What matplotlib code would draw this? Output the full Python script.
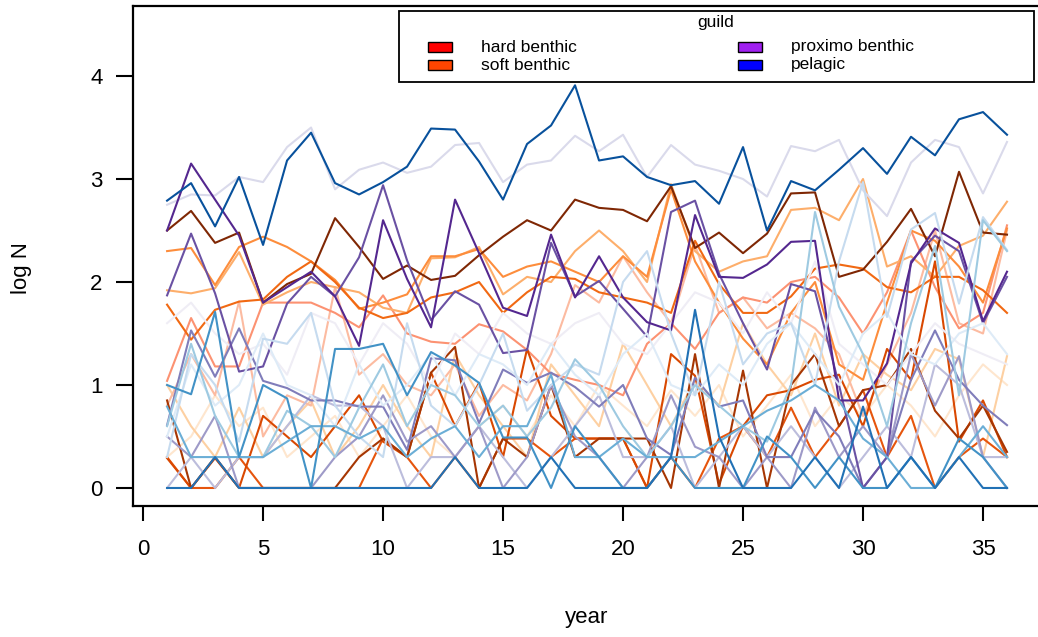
import matplotlib.pyplot as plt
from matplotlib.patches import Rectangle
import numpy as np

years = list(range(1, 37))

# hard / soft benthic species (orange-red shades)
brown_1 = [2.50, 2.69, 2.38, 2.48, 1.80, 1.98, 2.08, 2.62, 2.34, 2.03, 2.16, 2.02, 2.06, 2.26, 2.44, 2.60, 2.50, 2.80, 2.72, 2.70, 2.59, 2.93, 2.33, 2.48, 2.28, 2.47, 2.86, 2.87, 2.05, 2.12, 2.39, 2.71, 2.25, 3.07, 2.48, 2.46]
rust_1 = [0.85, 0.0, 0.3, 0.0, 0.0, 0.0, 0.0, 0.0, 0.3, 0.48, 0.3, 1.12, 1.37, 0.0, 0.48, 0.3, 1.0, 0.3, 0.48, 0.48, 0.48, 0.0, 1.3, 0.0, 1.14, 0.0, 1.0, 1.3, 0.6, 0.95, 1.0, 1.35, 0.75, 0.48, 0.8, 0.35]
dark_orange_1 = [0.29, 0.0, 0.29, 0.0, 0.7, 0.5, 0.3, 0.6, 0.9, 0.45, 0.3, 1.12, 0.6, 1.02, 0.3, 1.35, 0.7, 0.48, 0.48, 0.48, 0.0, 1.3, 1.09, 0.04, 0.6, 0.9, 0.95, 1.05, 1.1, 0.6, 1.35, 1.05, 2.2, 0.45, 0.85, 0.3]
dark_orange_2 = [0.3, 0.0, 0.0, 0.3, 0.0, 0.0, 0.0, 0.0, 0.0, 0.48, 0.3, 0.0, 0.3, 0.0, 0.48, 0.48, 0.3, 0.48, 0.48, 0.48, 0.0, 0.3, 0.0, 0.48, 0.6, 0.3, 0.78, 0.3, 0.6, 0.95, 0.3, 0.7, 0.0, 0.3, 0.48, 0.3]
orange_1 = [1.78, 1.44, 1.73, 1.81, 1.83, 2.05, 2.20, 2.00, 1.75, 1.65, 1.70, 1.85, 1.90, 2.00, 1.70, 1.90, 2.05, 2.03, 1.90, 1.85, 1.80, 1.70, 2.40, 1.98, 1.70, 1.70, 1.86, 2.13, 2.17, 2.13, 1.95, 1.90, 2.05, 2.05, 1.92, 1.70]
orange_2 = [2.30, 2.33, 1.97, 2.34, 2.44, 2.34, 2.20, 2.02, 1.74, 1.80, 1.88, 2.25, 2.25, 2.32, 2.05, 2.15, 2.20, 2.10, 2.00, 2.25, 2.05, 2.90, 2.20, 1.80, 1.45, 1.20, 1.70, 2.00, 1.20, 1.05, 1.80, 2.50, 2.40, 2.15, 1.80, 2.52]
orange_3 = [1.92, 1.89, 1.94, 2.29, 1.78, 1.90, 2.00, 1.95, 1.90, 1.75, 1.70, 2.23, 2.24, 2.34, 1.88, 2.05, 2.00, 2.30, 2.50, 2.30, 2.00, 2.95, 2.30, 2.10, 2.20, 2.25, 2.70, 2.72, 2.60, 3.00, 2.15, 2.25, 2.05, 2.35, 2.45, 2.78]
orange_4 = [1.0, 0.6, 0.3, 0.78, 0.3, 0.6, 0.85, 0.3, 0.6, 1.0, 0.6, 0.3, 1.3, 0.9, 0.6, 0.3, 1.2, 0.9, 0.6, 1.4, 1.0, 0.6, 1.05, 0.8, 1.6, 1.2, 0.9, 1.5, 0.8, 1.3, 1.1, 0.95, 1.35, 1.25, 0.3, 1.28]
orange_5 = [0.3, 0.5, 0.9, 0.6, 0.78, 0.3, 0.5, 0.7, 0.3, 0.6, 0.9, 0.5, 0.3, 0.6, 0.8, 0.5, 0.9, 0.6, 1.0, 0.8, 0.6, 0.95, 0.7, 1.0, 0.5, 0.8, 1.1, 0.6, 0.9, 0.7, 1.0, 0.8, 0.5, 0.9, 1.2, 1.0]
salmon_1 = [1.04, 1.65, 1.18, 1.18, 1.8, 1.8, 1.8, 1.7, 1.56, 1.87, 1.50, 1.42, 1.40, 1.59, 1.52, 1.34, 1.11, 1.05, 1.0, 0.9, 1.4, 1.6, 1.35, 1.7, 1.85, 1.8, 2.0, 2.05, 1.85, 1.5, 1.9, 2.5, 1.95, 1.55, 1.7, 2.55]
salmon_2 = [0.8, 1.3, 0.9, 1.81, 0.5, 0.9, 0.8, 1.95, 1.1, 1.3, 1.0, 0.9, 1.2, 0.7, 1.0, 0.85, 1.3, 1.97, 1.8, 2.25, 1.9, 1.6, 2.36, 1.7, 1.85, 1.55, 1.7, 1.55, 1.3, 0.7, 1.2, 1.7, 2.5, 1.6, 1.5, 2.5]

# proximo benthic species (purple shades)
purple_1 = [2.50, 3.15, 2.80, 2.45, 1.80, 1.95, 2.10, 1.86, 1.38, 2.60, 2.03, 1.56, 2.80, 2.28, 1.75, 1.67, 2.46, 1.85, 2.25, 1.85, 1.61, 1.53, 2.65, 2.05, 2.04, 2.17, 2.39, 2.40, 0.85, 0.85, 1.21, 2.18, 2.52, 2.38, 1.62, 2.10]
purple_2 = [1.87, 2.47, 1.89, 1.13, 1.18, 1.79, 2.05, 1.86, 2.24, 2.94, 2.21, 1.63, 1.91, 1.78, 1.31, 1.34, 2.38, 1.86, 2.01, 1.74, 1.47, 2.68, 2.79, 2.08, 1.60, 1.15, 1.98, 1.91, 1.0, 0.0, 0.3, 2.20, 2.45, 2.30, 1.60, 2.05]
purple_3 = [0.61, 1.53, 1.08, 1.55, 1.04, 0.97, 0.85, 0.85, 0.79, 0.79, 0.37, 1.26, 1.24, 0.63, 1.15, 1.02, 1.12, 0.98, 0.79, 1.0, 0.48, 0.32, 1.07, 0.79, 0.85, 0.3, 0.3, 0.75, 0.5, 0.0, 0.3, 1.05, 1.53, 1.05, 0.8, 0.61]
purple_4 = [0.5, 0.3, 0.7, 0.0, 0.0, 0.0, 0.0, 0.3, 0.5, 0.9, 0.45, 0.6, 0.3, 0.6, 0.0, 0.3, 1.0, 0.5, 0.3, 0.0, 0.3, 0.9, 0.4, 0.3, 0.0, 0.3, 0.0, 0.78, 0.3, 0.6, 0.3, 1.3, 0.8, 1.28, 0.3, 0.0]
purple_5 = [0.0, 0.3, 0.0, 0.3, 0.3, 0.6, 0.9, 0.8, 0.8, 0.6, 0.0, 0.3, 0.3, 0.6, 0.3, 0.0, 0.3, 0.6, 0.9, 0.3, 0.3, 0.6, 0.0, 0.3, 0.6, 0.3, 0.6, 0.3, 0.0, 0.3, 0.6, 0.3, 1.2, 1.0, 0.3, 0.3]
purple_6 = [2.75, 2.85, 2.84, 3.02, 2.97, 3.31, 3.50, 2.90, 3.09, 3.16, 3.06, 3.12, 3.33, 3.35, 2.97, 3.14, 3.18, 3.42, 3.27, 3.43, 3.02, 3.33, 3.14, 3.08, 3.00, 2.83, 3.32, 3.27, 3.38, 2.89, 2.64, 3.16, 3.38, 3.31, 2.86, 3.36]
purple_7 = [1.6, 1.8, 1.5, 1.3, 1.4, 1.1, 1.7, 1.6, 1.2, 1.6, 1.4, 1.0, 1.5, 1.3, 1.7, 1.5, 1.4, 1.6, 1.7, 1.4, 1.3, 1.6, 1.9, 1.8, 1.5, 1.9, 1.6, 2.2, 1.4, 1.2, 1.0, 1.3, 1.6, 1.4, 1.3, 1.2]

# pelagic species (blue shades)
blue_1 = [2.79, 2.96, 2.54, 3.02, 2.36, 3.18, 3.45, 2.96, 2.85, 2.97, 3.12, 3.49, 3.48, 3.17, 2.80, 3.34, 3.52, 3.91, 3.18, 3.22, 3.02, 2.94, 2.98, 2.76, 3.31, 2.50, 2.98, 2.89, 3.09, 3.30, 3.05, 3.41, 3.23, 3.58, 3.65, 3.43]
blue_2 = [0.0, 0.0, 0.3, 0.0, 0.0, 0.0, 0.0, 0.0, 0.0, 0.0, 0.0, 0.0, 0.3, 0.0, 0.0, 0.0, 0.3, 0.0, 0.0, 0.0, 0.0, 0.3, 1.73, 0.5, 0.0, 0.0, 0.0, 0.3, 0.0, 0.79, 0.0, 0.3, 0.0, 0.3, 0.0, 0.0]
blue_3 = [1.0, 0.91, 1.71, 0.3, 1.0, 0.87, 0.0, 1.35, 1.35, 1.40, 0.9, 1.32, 1.19, 1.02, 0.49, 0.49, 0.0, 0.6, 0.3, 0.0, 0.0, 0.3, 0.0, 0.0, 0.0, 0.5, 0.3, 0.0, 0.3, 0.0, 0.0, 0.3, 0.0, 0.48, 0.3, 0.0]
blue_4 = [0.79, 0.3, 0.3, 0.3, 0.3, 0.45, 0.6, 0.6, 0.48, 0.6, 0.3, 0.48, 0.6, 0.3, 0.6, 0.6, 1.1, 0.3, 0.3, 0.48, 0.3, 0.3, 0.3, 0.45, 0.6, 0.75, 0.85, 1.0, 0.85, 0.48, 0.3, 0.0, 0.0, 0.3, 0.6, 0.3]
blue_5 = [0.6, 1.4, 0.7, 0.3, 0.3, 0.75, 0.6, 0.3, 0.78, 1.2, 0.6, 1.0, 0.9, 0.6, 0.8, 0.5, 0.78, 1.25, 1.0, 0.6, 0.3, 0.6, 1.0, 0.8, 0.6, 0.45, 1.0, 2.68, 1.76, 1.3, 0.6, 1.6, 2.35, 0.9, 2.6, 2.3]
blue_6 = [0.3, 1.3, 1.0, 0.45, 1.45, 1.4, 1.7, 0.8, 0.5, 0.3, 1.6, 0.8, 0.6, 1.0, 1.5, 0.75, 1.0, 1.2, 1.1, 2.0, 2.3, 1.5, 0.9, 2.0, 1.2, 1.5, 1.6, 1.0, 2.2, 2.97, 1.66, 2.51, 2.67, 1.79, 2.63, 2.31]
blue_7 = [0.5, 1.2, 0.8, 1.0, 1.5, 1.0, 0.9, 0.6, 1.2, 0.8, 1.0, 1.3, 0.9, 1.3, 1.2, 1.0, 1.4, 1.1, 0.9, 1.3, 1.5, 1.0, 0.9, 1.2, 1.0, 1.4, 1.6, 1.3, 1.0, 1.5, 1.7, 1.3, 1.2, 1.5, 1.6, 1.3]

series = [
    (orange_5, '#fee6ce'), (orange_4, '#fdd0a2'), (salmon_2, '#fcbba1'),
    (salmon_1, '#fc9272'), (orange_3, '#fdae6b'), (orange_2, '#fd8d3c'),
    (orange_1, '#f16913'), (dark_orange_2, '#e6550d'), (dark_orange_1, '#d94801'),
    (rust_1, '#a63603'), (brown_1, '#7f2704'),
    (purple_7, '#efedf5'), (purple_6, '#dadaeb'), (purple_5, '#bcbddc'),
    (purple_4, '#9e9ac8'), (purple_3, '#807dba'), (purple_2, '#6a51a3'),
    (purple_1, '#54278f'),
    (blue_7, '#deebf7'), (blue_6, '#c6dbef'), (blue_5, '#9ecae1'),
    (blue_4, '#6baed6'), (blue_3, '#4292c6'), (blue_2, '#2171b5'),
    (blue_1, '#08519c'),
]

guilds = ['hard benthic', 'soft benthic', 'proximo benthic', 'pelagic']
guild_colors = ['#ff0000', '#ff4500', '#a020f0', '#0000ff']

plt.rcParams['font.family'] = ['Liberation Sans', 'DejaVu Sans']

W, H = 1038, 637
fig = plt.figure(figsize=(W / 100, H / 100), dpi=100)
ax = fig.add_axes([133 / W, 1 - 506 / H, 910 / W, 500 / H])

for values, color in series:
    ax.plot(years, values, color=color, linewidth=1.5)

ax.set_xlim(-0.42, 37.5)
ax.set_ylim(-0.175, 4.68)
ax.set_xticks([0, 5, 10, 15, 20, 25, 30, 35])
ax.set_yticks([0, 1, 2, 3, 4])
ax.tick_params(axis='x', length=11, width=1.5, pad=13, labelsize=16)
ax.tick_params(axis='y', length=12, width=1.5, pad=10, labelsize=16)
for side in ['left', 'bottom', 'top', 'right']:
    ax.spines[side].set_linewidth(1.6)

fig.text(22 / W, 1 - 268 / H, 'log N', rotation=90, fontsize=16,
         ha='center', va='center')
fig.text(587 / W, 1 - 618 / H, 'year', fontsize=16, ha='center', va='center')

# legend box drawn by hand (R style: two columns, title on top)
fig.add_artist(Rectangle((399 / W, 1 - 82 / H), 635 / W, 71 / H,
                         transform=fig.transFigure, facecolor='white',
                         edgecolor='black', linewidth=1.3, zorder=5))
fig.text(716 / W, 1 - 23 / H, 'guild', fontsize=12.5, ha='center', va='center', zorder=6)
box_x = [428, 428, 738, 738]
text_x = [481, 481, 791, 791]
row_y = [47, 65, 47, 65]
for label, color, bx, tx, ry in zip(guilds, guild_colors, box_x, text_x, row_y):
    fig.add_artist(Rectangle((bx / W, 1 - (ry + 5) / H), 24 / W, 10 / H,
                             transform=fig.transFigure, facecolor=color,
                             edgecolor='black', linewidth=1.0, zorder=6))
    fig.text(tx / W, 1 - ry / H, label, fontsize=12.5, ha='left', va='center', zorder=6)

fig.savefig('out.png', dpi=100)
